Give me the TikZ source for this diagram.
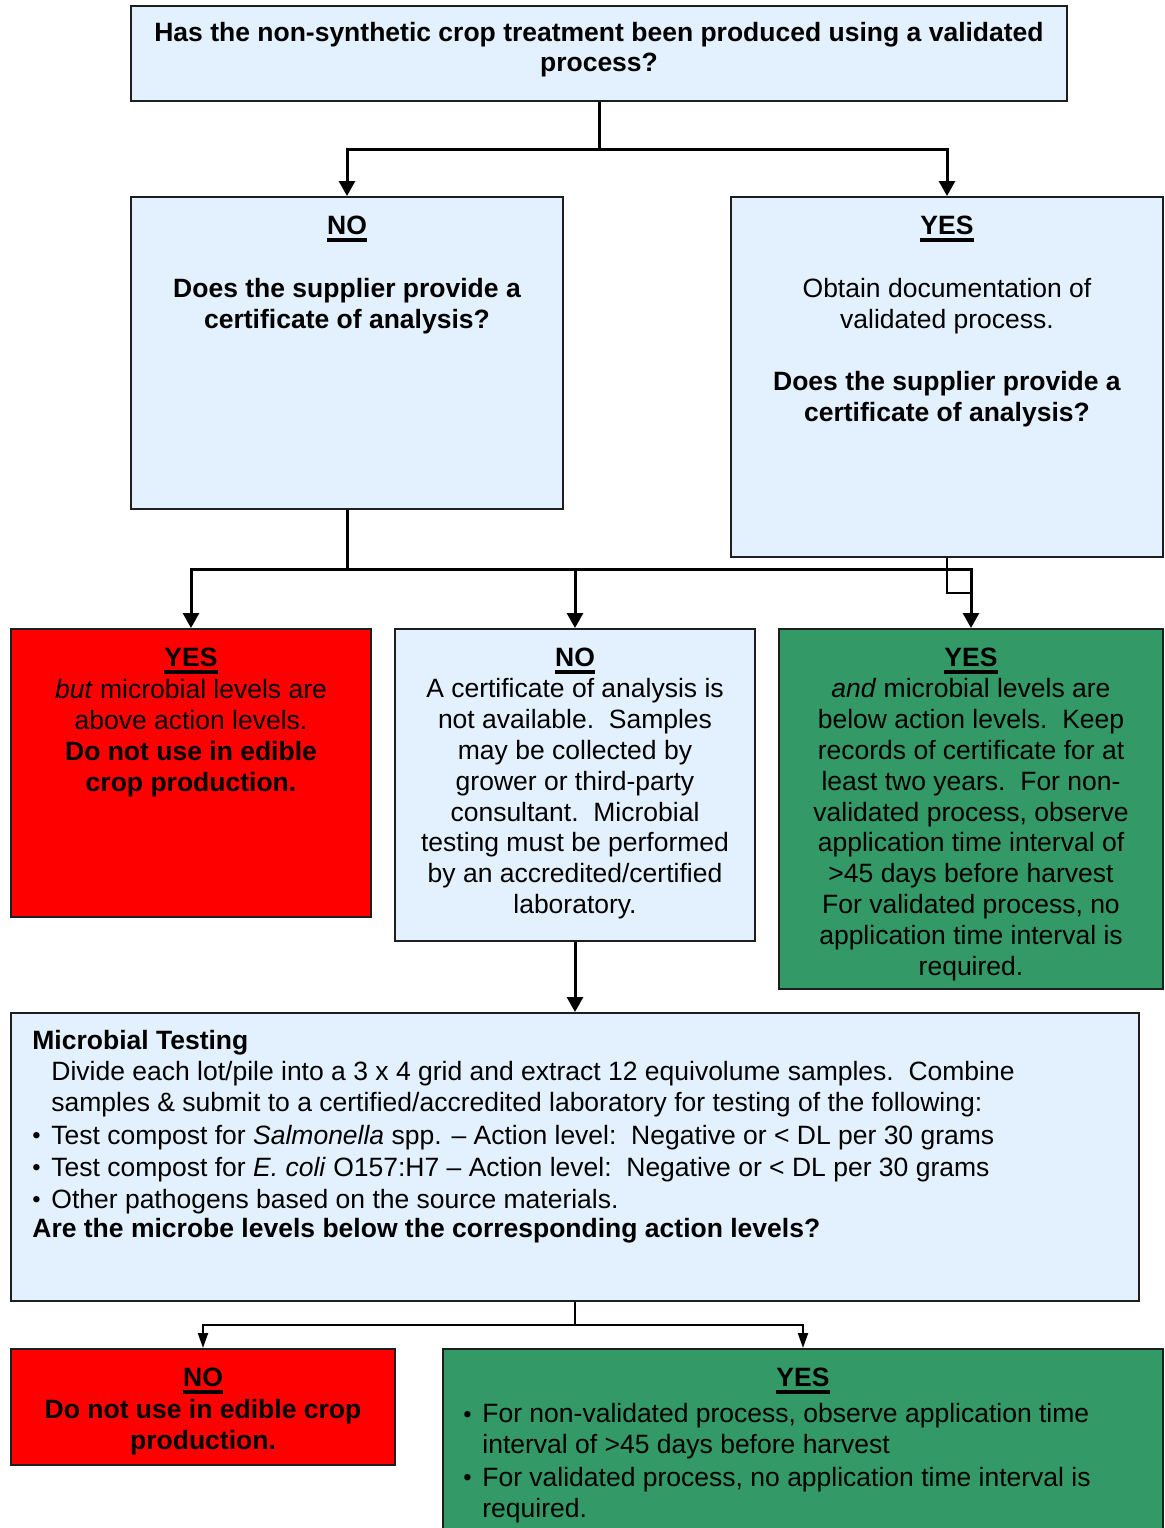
\documentclass[tikz,border=0pt]{standalone}
\usepackage{fontspec}
\setmainfont{Liberation Sans}
\usetikzlibrary{arrows.meta}
\definecolor{lblue}{RGB}{227,240,253}
\definecolor{myred}{RGB}{255,0,0}
\definecolor{mygreen}{RGB}{51,153,102}
\definecolor{edgec}{RGB}{30,30,30}
\newcommand\myul[1]{\setbox0\hbox{#1}\rlap{\rule[-3.5pt]{\wd0}{1.75pt}}\box0}
\newcommand\bul{\makebox[9.5pt][l]{\raisebox{0.3pt}{\fontsize{11.8pt}{11.8pt}\selectfont\textbullet}}}
\begin{document}
\begin{tikzpicture}[x=0.5pt,y=-0.5pt,
  box/.style={draw=edgec,line width=1pt,inner sep=0},
  txt/.style={inner sep=0,anchor=north,align=center,font=\fontsize{13.25pt}{15.6pt}\selectfont},
  ctxt/.style={txt,font=\fontsize{13.25pt}{15.42pt}\selectfont},
  btxt/.style={txt,font=\fontsize{13.25pt}{15.6pt}\selectfont\bfseries},
  ltxt/.style={inner sep=0,anchor=north west,align=left,font=\fontsize{13.25pt}{15.4pt}\selectfont},
  conn/.style={line width=1.5pt},
  thin/.style={line width=1pt},
  arr/.style={conn,-{Triangle[width=8pt,length=7.5pt]}},
  arrs/.style={thin,-{Triangle[width=5pt,length=7.5pt]}}]
\path[use as bounding box,clip] (0,0) rectangle (1165,1528);

% boxes
\node[box,fill=lblue,minimum width=468pt,minimum height=47.5pt] (q) at (599,53.5) {};
\node[box,fill=lblue,minimum width=216pt,minimum height=156pt] (no1) at (347,353) {};
\node[box,fill=lblue,minimum width=216pt,minimum height=180pt] (yes1) at (947,377) {};
\node[box,fill=myred,minimum width=180pt,minimum height=144pt] (red1) at (191,773) {};
\node[box,fill=lblue,minimum width=180pt,minimum height=156pt] (no2) at (575,785) {};
\node[box,fill=mygreen,minimum width=192pt,minimum height=180pt] (green1) at (971,809) {};
\node[box,fill=lblue,minimum width=564pt,minimum height=144pt] (test) at (575,1157) {};
\node[box,fill=myred,minimum width=192pt,minimum height=58pt] (red2) at (203,1407) {};
\node[box,fill=mygreen,minimum width=360pt,minimum height=95.5pt] (green2) at (803,1444.5) {};

% texts
\node[btxt] (tq) at (599,22) {Has the non-synthetic crop treatment been produced using a validated\\[-0.6pt]process?};
\node[btxt] (tno1) at (347,216) {\myul{NO}\\[15.5pt]Does the supplier provide a\\certificate of analysis?};
\node[txt] (tyes1) at (947,216) {\myul{\textbf{YES}}\\[15.5pt]Obtain documentation of\\validated process.\\[15.5pt]\textbf{Does the supplier provide a}\\\textbf{certificate of analysis?}};
\node[txt] (tred1) at (191,648) {\myul{\textbf{YES}}\\\textit{but} microbial levels are\\above action levels.\\\textbf{Do not use in edible}\\\textbf{crop production.}};
\node[ctxt] (tno2) at (575,648) {\myul{\textbf{NO}}\\A certificate of analysis is\\not available.\ \ Samples\\may be collected by\\grower or third-party\\consultant.\ \ Microbial\\testing must be performed\\by an accredited/certified\\laboratory.};
\node[ctxt] (tgreen1) at (971,648) {\myul{\textbf{YES}}\\\textit{and} microbial levels are\\below action levels.\ \ Keep\\records of certificate for at\\least two years.\ \ For non-\\validated process, observe\\application time interval of\\>45 days before harvest\\For validated process, no\\application time interval is\\required.};
\node[ltxt] (ttest) at (32,1030) {\textbf{Microbial Testing}\\
\hspace*{9.5pt}Divide each lot/pile into a 3 x 4 grid and extract 12 equivolume samples.\ \ Combine\\
\hspace*{9.5pt}samples \& submit to a certified/accredited laboratory for testing of the following:\\[1pt]
\bul Test compost for \textit{Salmonella} spp. -- Action level:\ \ Negative or < DL per 30 grams\\[0.6pt]
\bul Test compost for \textit{E. coli} O157:H7 -- Action level:\ \ Negative or < DL per 30 grams\\[0.6pt]
\bul Other pathogens based on the source materials.\\[-0.6pt]
\textbf{Are the microbe levels below the corresponding action levels?}};
\node[btxt] (tred2) at (203,1368) {\myul{NO}\\Do not use in edible crop\\production.};
\node[btxt] (tgreen2) at (803,1368) {\myul{YES}};
\node[ltxt] (tgreen2b) at (463,1403) {\bul For non-validated process, observe application time\\
\hspace*{9.5pt}interval of >45 days before harvest\\[1pt]
\bul For validated process, no application time interval is\\
\hspace*{9.5pt}required.};

% connectors
\draw[conn] (q.south) -- (599,149) coordinate (j1);
\draw[arr] (j1) -| (no1.north);
\draw[arr] (j1) -| (yes1.north);
\draw[conn] (no1.south) -- (347,569) coordinate (j2);
\draw[arr] (j2) -| (red1.north);
\draw[arr] (j2) -| (no2.north);
\draw[arr] (j2) -| (green1.north);
\draw[thin] (yes1.south) |- (971,593) coordinate (j4);
\draw[arr] (no2.south) -- (test.north);
\draw[thin] (test.south) -- (575,1325) coordinate (j3);
\draw[arrs] (j3) -| (red2.north);
\draw[arrs] (j3) -| (green2.north);
\end{tikzpicture}
\end{document}
